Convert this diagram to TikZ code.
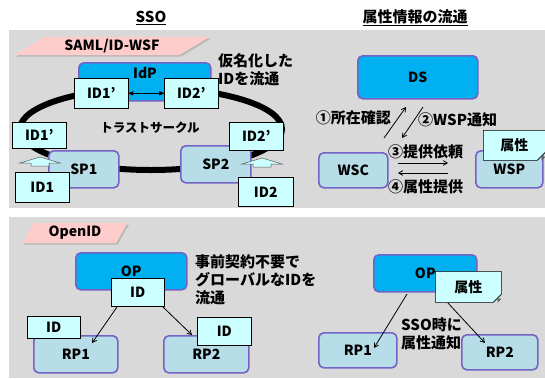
\documentclass[tikz,border=0pt]{standalone}
\usepackage{fontspec}
\setmainfont{Noto Sans CJK JP}
\usetikzlibrary{arrows,shapes.geometric,shapes.misc,shadows}
\definecolor{cgray}{HTML}{D9D9D9}
\definecolor{cblue}{HTML}{00B0F0}
\definecolor{cteal}{HTML}{B7DEE8}
\definecolor{ccyan}{HTML}{CCFFFF}
\definecolor{cpink}{HTML}{FFCCCC}
\definecolor{cpurple}{HTML}{7263C4}

\begin{document}
\begin{tikzpicture}[x=1pt,y=-1pt,>=angle 60,thin,
  box font/.style={font=\bfseries\fontsize{14}{16}\selectfont},
  word font/.style={font=\bfseries\fontsize{15}{18}\selectfont},
  blue node/.style={rectangle,rounded corners=5pt,fill=cblue,draw=cpurple,
        line width=1.6pt,inner sep=0pt,anchor=north west,box font},
  pale node/.style={blue node,fill=cteal},
  id node/.style={rectangle,fill=ccyan,draw=black,line width=0.6pt,
        inner sep=0pt,anchor=north west,box font},
  note node/.style={id node,chamfered rectangle,chamfered rectangle corners=south east,
        chamfered rectangle xsep=4pt,chamfered rectangle ysep=4pt},
  tag node/.style={trapezium,trapezium stretches body,fill=cpink,inner sep=0pt,
        drop shadow={shadow xshift=1.5pt,shadow yshift=-1.5pt,fill=gray!80},box font},
  words/.style={word font,align=left,inner sep=0pt,anchor=north west},
  lift/.style={fill=ccyan,draw=gray!70!black,line width=0.5pt}]
  \useasboundingbox (0,0) rectangle (545,378);

  % titles and panels
  \node[word font] (ssotitle) at (151,18) {\underline{SSO}};
  \node[word font] (flowtitle) at (415,18) {\underline{属性情報の流通}};
  \fill[cgray] (9,30) rectangle (545,208);
  \fill[cgray] (9,217) rectangle (545,378);

  % SAML/ID-WSF
  \node[tag node,trapezium left angle=25,trapezium right angle=155,
        minimum width=195,minimum height=18] (saml) at (112,46) {SAML/ID-WSF};
  \draw[line width=6pt] (151,129) ellipse [x radius=131, y radius=41];
  \node[blue node,minimum width=132,minimum height=38] (idp) at (78,62) {};
  \node[box font] (idpname) at (145,73) {IdP};
  \node[id node,minimum width=54,minimum height=30] (id1a) at (74,78) {ID1'};
  \node[id node,minimum width=54,minimum height=30] (id2a) at (164,78) {ID2'};
  \draw[<->,>=stealth',line width=0.8pt] (id1a) -- (id2a);
  \node[words] (pseudo) at (218,53) {仮名化した\\IDを流通};
  \node[font=\bfseries\fontsize{12.5}{15}\selectfont] (circle) at (150,128) {トラストサークル};

  \node[pale node,minimum width=70,minimum height=37] (sp1) at (48,150) {SP1};
  \node[id node,minimum width=54,minimum height=26] (id1b) at (12,122) {ID1'};
  \node[id node,minimum width=54,minimum height=30] (id1) at (15,172) {ID1};
  \filldraw[lift] (20,163) -- (40,157) -- (60,163) -- (49,163) -- (49,166)
        -- (31,166) -- (31,163) -- cycle;

  \node[pale node,minimum width=70,minimum height=37] (sp2) at (180,145) {SP2};
  \node[id node,minimum width=54,minimum height=28] (id2b) at (229,122) {ID2'};
  \node[id node,minimum width=55,minimum height=29] (id2) at (238,177) {ID2};
  \filldraw[lift] (242,164) -- (262,158) -- (282,164) -- (271,164) -- (271,167)
        -- (253,167) -- (253,164) -- cycle;

  % attribute flow
  \node[blue node,minimum width=120,minimum height=43] (ds) at (357,55) {DS};
  \node[pale node,minimum width=69,minimum height=35] (wsc) at (318,152) {WSC};
  \node[pale node,minimum width=67,minimum height=37] (wsp) at (475,150) {WSP};
  \node[note node,minimum width=62,minimum height=30] (attr1) at (483,130) {属性};
  \fill[gray!70!black] ([xshift=-4pt]attr1.south -| attr1.east) -- ([yshift=4pt]attr1.south -| attr1.east)
        -- ([shift={(-4pt,4pt)}]attr1.south -| attr1.east) -- cycle;
  \coordinate (q1) at (384,138);
  \coordinate (q2) at (406,107);
  \coordinate (q3) at (423,107);
  \coordinate (q4) at (402,138);
  \coordinate (q5) at (398,163);
  \coordinate (q6) at (448,163);
  \coordinate (q7) at (448,173);
  \coordinate (q8) at (398,173);
  \path[->,line width=0.8pt]
    (q1) edge (q2)
    (q3) edge (q4)
    (q5) edge (q6)
    (q7) edge (q8);
  \node[word font,anchor=east,inner sep=0pt] (ask) at (391,118) {①所在確認};
  \node[word font,anchor=west,inner sep=0pt] (tell) at (418,120) {②WSP通知};
  \node[word font,anchor=west,inner sep=0pt] (req) at (388,152) {③提供依頼};
  \node[word font,anchor=west,inner sep=0pt] (give) at (388,187) {④属性提供};

  % OpenID
  \node[tag node,trapezium left angle=50,trapezium right angle=130,
        minimum width=105,minimum height=20] (openid) at (75,233) {OpenID};
  \node[blue node,minimum width=111,minimum height=37] (op1) at (75,252) {OP};
  \node[pale node,minimum width=84,minimum height=37] (rp1a) at (33,335) {RP1};
  \node[pale node,minimum width=85,minimum height=37] (rp2a) at (163,335) {RP2};
  \node[id node,minimum width=53,minimum height=28] (idc) at (111,278) {ID};
  \node[id node,minimum width=53,minimum height=22] (idl) at (27,316) {ID};
  \node[id node,minimum width=54,minimum height=28] (idr) at (197,317) {ID};
  \coordinate (p1) at (117,307);
  \coordinate (p2) at (92,343);
  \coordinate (p3) at (163,307);
  \coordinate (p4) at (192,335);
  \path[->,line width=0.8pt]
    (p1) edge (p2)
    (p3) edge (p4);
  \node[words] (global) at (195,254) {事前契約不要で\\グローバルなIDを\\流通};

  \node[blue node,minimum width=103,minimum height=37] (op2) at (373,254) {OP};
  \node[pale node,minimum width=78,minimum height=35] (rp1b) at (318,332) {RP1};
  \node[pale node,minimum width=76,minimum height=35] (rp2b) at (461,334) {RP2};
  \node[note node,minimum width=66,minimum height=31] (attr2) at (435,271) {属性};
  \fill[gray!70!black] ([xshift=-4pt]attr2.south -| attr2.east) -- ([yshift=4pt]attr2.south -| attr2.east)
        -- ([shift={(-4pt,4pt)}]attr2.south -| attr2.east) -- cycle;
  \coordinate (r1) at (407,294);
  \coordinate (r2) at (374,348);
  \coordinate (r3) at (448,303);
  \coordinate (r4) at (485,343);
  \path[->,line width=0.8pt]
    (r1) edge (r2)
    (r3) edge (r4);
  \node[words] (notify) at (401,317) {SSO時に\\属性通知};
\end{tikzpicture}
\end{document}
